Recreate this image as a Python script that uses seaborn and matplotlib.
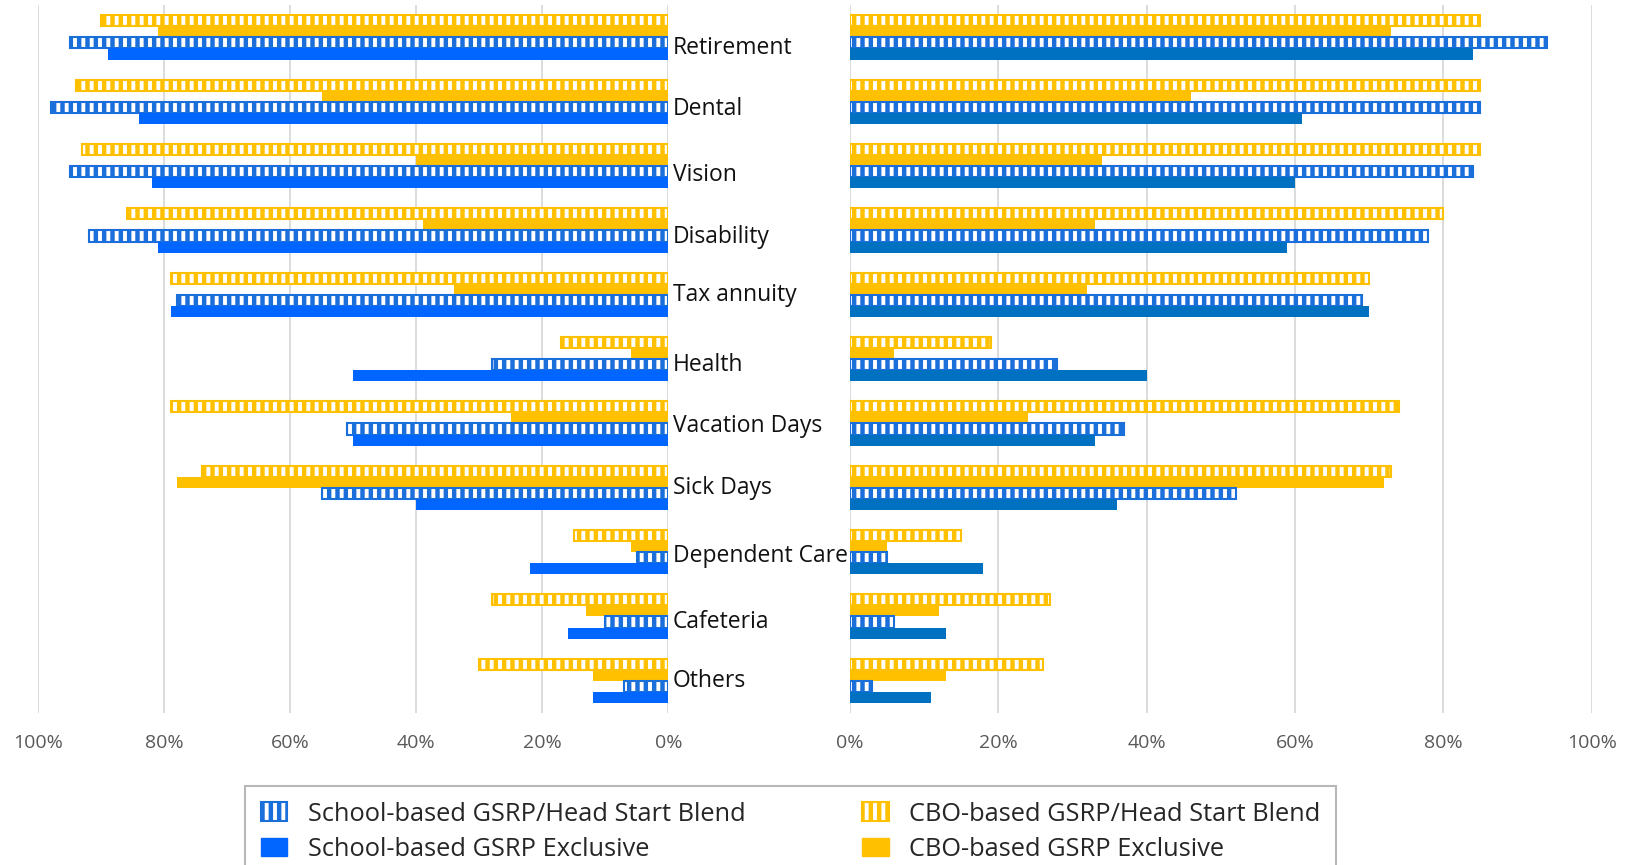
import pandas as pd
import matplotlib.pyplot as plt
import seaborn as sns
from matplotlib.patches import Patch
from matplotlib.ticker import PercentFormatter

categories = ["Retirement", "Dental", "Vision", "Disability", "Tax annuity", "Health",
              "Vacation Days", "Sick Days", "Dependent Care", "Cafeteria", "Others"]
series = ["CBO-based GSRP/Head Start Blend", "CBO-based GSRP Exclusive",
          "School-based GSRP/Head Start Blend", "School-based GSRP Exclusive"]

# left panel (bars grow to the left)
left_cbo_blend = [90, 94, 93, 86, 79, 17, 79, 74, 15, 28, 30]
left_cbo_excl = [81, 55, 40, 39, 34, 6, 25, 78, 6, 13, 12]
left_school_blend = [95, 98, 95, 92, 78, 28, 51, 55, 5, 10, 7]
left_school_excl = [89, 84, 82, 81, 79, 50, 50, 40, 22, 16, 12]

# right panel
right_cbo_blend = [85, 85, 85, 80, 70, 19, 74, 73, 15, 27, 26]
right_cbo_excl = [73, 46, 34, 33, 32, 6, 24, 72, 5, 12, 13]
right_school_blend = [94, 85, 84, 78, 69, 28, 37, 52, 5, 6, 3]
right_school_excl = [84, 61, 60, 59, 70, 40, 33, 36, 18, 13, 11]

# the category captions sit a little off the group centres in the original
label_shift = [0.125, 0.08, 0.1, 0.07, -0.03, 0.05, 0.0, -0.03, 0.03, 0.05, -0.04]

yellow = "#FFC000"
blue_hatch = "#1A6FDB"
blue_left = "#0066FF"
blue_right = "#0070C0"

sns.set_theme(style="white")
plt.rcParams['font.family'] = ['Open Sans', 'DejaVu Sans']
plt.rcParams['hatch.linewidth'] = 3.2


def make_df(vals):
    rows = []
    for s, v in zip(series, vals):
        for c, x in zip(categories, v):
            rows.append({"category": c, "series": s, "value": x})
    return pd.DataFrame(rows)


def draw_panel(ax, vals, solid_blue):
    df = make_df(vals)
    colors = [yellow, yellow, blue_hatch, solid_blue]
    sns.barplot(data=df, y="category", x="value", hue="series", hue_order=series,
                order=categories, palette=colors, orient="h", width=0.69,
                saturation=1, linewidth=0, legend=False, ax=ax)
    for i, cont in enumerate(ax.containers):
        if i in (0, 2):
            for bar in cont:
                bar.set_facecolor("white")
                bar.set_edgecolor(colors[i])
                bar.set_hatch("||")
                bar.set_linewidth(1.5)
    ax.set_ylim(len(categories) - 0.5, -0.5)
    ax.set_axisbelow(True)
    ax.grid(axis="x", color="#D9D9D9", lw=1.3)
    ax.grid(axis="y", visible=False)
    ax.set_xticks(range(0, 101, 20))
    ax.xaxis.set_major_formatter(PercentFormatter(decimals=0))
    ax.tick_params(axis="x", length=0, labelsize=14, labelcolor="#595959", pad=15)
    ax.tick_params(axis="y", left=False, labelleft=False)
    ax.set_xlabel("")
    ax.set_ylabel("")
    for sp in ax.spines.values():
        sp.set_visible(False)


fig = plt.figure(figsize=(16.25, 8.65), dpi=100)
ax_l = fig.add_axes([0.0236, 0.1757, 0.3877, 0.8183])
ax_r = fig.add_axes([0.5229, 0.1757, 0.4566, 0.8183])

draw_panel(ax_l, [left_cbo_blend, left_cbo_excl, left_school_blend, left_school_excl], blue_left)
ax_l.set_xlim(100, 0)
draw_panel(ax_r, [right_cbo_blend, right_cbo_excl, right_school_blend, right_school_excl], blue_right)
ax_r.set_xlim(0, 100)

for i, c in enumerate(categories):
    ax_l.annotate(c, xy=(0, i + label_shift[i] + 0.13), xytext=(3, 0),
                  textcoords="offset points", ha="left", va="baseline",
                  fontsize=16.5, color="#111111", annotation_clip=False)

handles = [
    Patch(facecolor="white", edgecolor=blue_hatch, hatch="||", linewidth=1.5),
    Patch(facecolor=blue_left, edgecolor=blue_left),
    Patch(facecolor="white", edgecolor=yellow, hatch="||", linewidth=1.5),
    Patch(facecolor=yellow, edgecolor=yellow),
]
labels = ["School-based GSRP/Head Start Blend", "School-based GSRP Exclusive",
          "CBO-based GSRP/Head Start Blend", "CBO-based GSRP Exclusive"]
leg = fig.legend(handles, labels, ncol=2, loc="upper left",
                 bbox_to_anchor=(0.151, 0.091),
                 fontsize=18.3, frameon=True, fancybox=False, edgecolor="#A6A6A6",
                 handlelength=1.05, handleheight=0.75, handletextpad=0.8,
                 columnspacing=4.6, labelspacing=0.4, borderpad=0.6,
                 borderaxespad=0)
leg.get_frame().set_linewidth(1.5)

fig.savefig("out.png", dpi=100)
